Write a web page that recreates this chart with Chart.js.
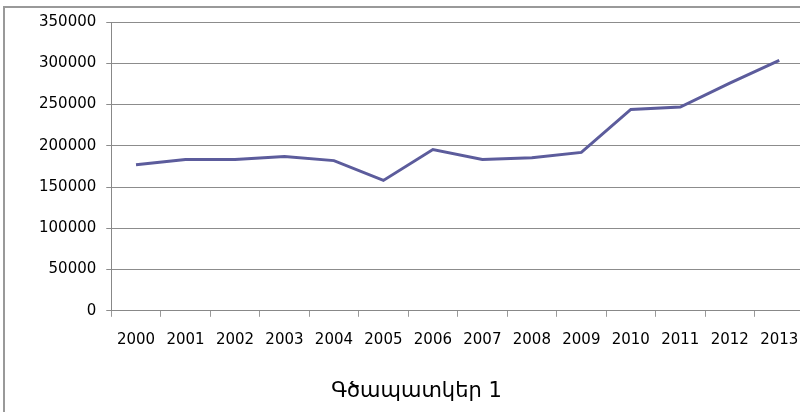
<!DOCTYPE html>
<html>
<head>
<meta charset="utf-8">
<script src="https://cdn.jsdelivr.net/npm/chart.js@4"></script>
<style>
  body { margin: 0; background: #fff; overflow: hidden; }
  #wrap {
    position: absolute; left: 3px; top: 6px;
    width: 830px; height: 420px;
    border-left: 2px solid #999; border-top: 2px solid #999;
  }
  #chart { display: block; margin-top: -5px; }
</style>
</head>
<body>
<div id="wrap"><canvas id="chart" width="830" height="409"></canvas></div>
<script>
const years = ['2000', '2001', '2002', '2003', '2004', '2005', '2006',
               '2007', '2008', '2009', '2010', '2011', '2012', '2013'];
const values = [177000, 183500, 183500, 187000, 182000, 158000, 195500,
                183500, 185500, 192000, 244000, 247000, 276000, 303500];
const chartTitle = 'Գծապատկեր 1';

const ctx = document.getElementById('chart').getContext('2d');

window.myChart = new Chart(ctx, {
    type: 'line',
    data: {
        labels: years,
        datasets: [{
            data: values,
            borderColor: '#5c5c9c',
            borderWidth: 3,
            pointRadius: 0,
            tension: 0
        }]
    },
    options: {
        responsive: false,
        animation: false,
        layout: { padding: { top: 0, right: 31, left: 24, bottom: 8 } },
        plugins: {
            legend: { display: false },
            tooltip: { enabled: false },
            title: {
                display: true,
                text: chartTitle,
                position: 'bottom',
                color: '#000',
                font: { family: 'DejaVu Sans', size: 21, weight: 'normal' },
                padding: { top: 16, bottom: 0 }
            }
        },
        scales: {
            x: {
                offset: true,
                grid: {
                    offset: true,
                    drawOnChartArea: false,
                    drawTicks: true,
                    tickLength: 6,
                    color: '#999'
                },
                border: { color: '#888', width: 1 },
                ticks: {
                    color: '#000',
                    padding: 14,
                    maxRotation: 0,
                    autoSkip: false,
                    font: { family: 'DejaVu Sans', size: 15 }
                }
            },
            y: {
                min: 0,
                max: 350000,
                grid: { color: '#8c8c8c', tickLength: 5 },
                border: { color: '#888', width: 1 },
                ticks: {
                    stepSize: 50000,
                    color: '#000',
                    padding: 10,
                    font: { family: 'DejaVu Sans', size: 15 },
                    callback: function(value) { return String(value); }
                }
            }
        }
    }
});
</script>
</body>
</html>
